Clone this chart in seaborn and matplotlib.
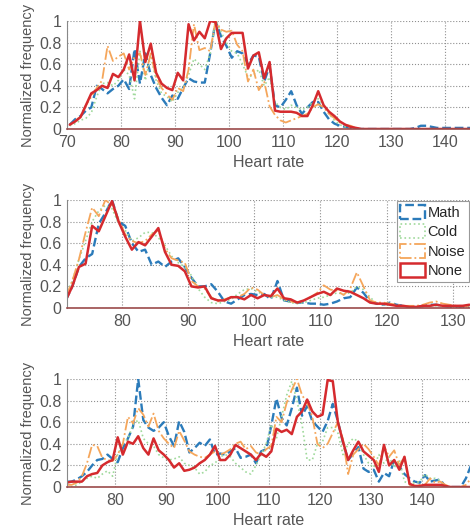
import numpy as np
import matplotlib
matplotlib.use("Agg")
import matplotlib.pyplot as plt
import seaborn as sns
from matplotlib.patches import Patch

# bin centres (heart rate) for each panel
hr1 = np.arange(70, 146) + 0.5
hr2 = np.arange(71, 133) + 0.5
hr3 = np.arange(70, 150) + 0.5

# panel 1
math1 = [0.04, 0.09, 0.12, 0.17, 0.20, 0.40, 0.37, 0.33, 0.37, 0.40,
         0.46, 0.37, 0.74, 0.42, 0.70, 0.50, 0.38, 0.29, 0.22, 0.31,
         0.28, 0.38, 0.47, 0.44, 0.43, 0.43, 0.70, 1.00, 0.86, 0.77,
         0.66, 0.72, 0.70, 0.60, 0.68, 0.67, 0.44, 0.58, 0.22, 0.20,
         0.27, 0.35, 0.22, 0.14, 0.20, 0.25, 0.25, 0.16, 0.09, 0.05,
         0.03, 0.02, 0.01, 0.00, 0.00, 0.00, 0.00, 0.00, 0.00, 0.00,
         0.00, 0.00, 0.00, 0.00, 0.01, 0.03, 0.03, 0.02, 0.01, 0.01,
         0.01, 0.01, 0.01, 0.01, 0.01, 0.01]
cold1 = [0.03, 0.05, 0.08, 0.10, 0.15, 0.30, 0.42, 0.43, 0.40, 0.45,
         0.55, 0.50, 0.28, 0.72, 0.45, 0.68, 0.45, 0.33, 0.30, 0.25,
         0.34, 0.38, 0.50, 0.65, 0.60, 0.55, 0.70, 1.00, 0.90, 0.80,
         0.72, 0.70, 0.60, 0.48, 0.50, 0.55, 0.40, 0.48, 0.25, 0.20,
         0.18, 0.22, 0.20, 0.18, 0.20, 0.25, 0.28, 0.22, 0.14, 0.08,
         0.04, 0.02, 0.01, 0.00, 0.00, 0.00, 0.00, 0.00, 0.00, 0.00,
         0.00, 0.00, 0.00, 0.00, 0.00, 0.00, 0.00, 0.00, 0.00, 0.00,
         0.00, 0.00, 0.00, 0.00, 0.00, 0.00]
noise1 = [0.04, 0.07, 0.12, 0.22, 0.30, 0.38, 0.45, 0.77, 0.63, 0.67,
          0.70, 0.55, 0.67, 0.70, 0.50, 0.70, 0.48, 0.38, 0.32, 0.27,
          0.38, 0.35, 0.55, 0.97, 0.73, 0.75, 0.72, 1.00, 0.92, 0.90,
          0.91, 0.78, 0.72, 0.44, 0.55, 0.36, 0.44, 0.21, 0.13, 0.08,
          0.06, 0.08, 0.10, 0.12, 0.14, 0.20, 0.23, 0.20, 0.14, 0.10,
          0.06, 0.04, 0.03, 0.01, 0.00, 0.00, 0.00, 0.00, 0.00, 0.00,
          0.00, 0.00, 0.00, 0.00, 0.00, 0.00, 0.00, 0.00, 0.00, 0.00,
          0.00, 0.00, 0.00, 0.00, 0.00, 0.00]
none1 = [0.04, 0.07, 0.11, 0.22, 0.33, 0.36, 0.40, 0.38, 0.51, 0.48,
         0.55, 0.69, 0.45, 1.00, 0.62, 0.79, 0.52, 0.42, 0.38, 0.36,
         0.52, 0.45, 0.97, 0.82, 0.90, 0.84, 1.00, 0.99, 0.74, 0.84,
         0.89, 0.89, 0.89, 0.56, 0.68, 0.71, 0.47, 0.62, 0.17, 0.16,
         0.16, 0.16, 0.15, 0.12, 0.12, 0.22, 0.35, 0.22, 0.16, 0.12,
         0.07, 0.04, 0.02, 0.01, 0.00, 0.00, 0.00, 0.00, 0.00, 0.00,
         0.00, 0.00, 0.00, 0.00, 0.00, 0.00, 0.00, 0.00, 0.00, 0.00,
         0.00, 0.00, 0.00, 0.00, 0.00, 0.00]

# panel 2
math2 = [0.07, 0.20, 0.38, 0.46, 0.50, 0.78, 0.88, 1.00, 0.80, 0.76,
         0.60, 0.52, 0.54, 0.40, 0.43, 0.38, 0.43, 0.46, 0.38, 0.28,
         0.20, 0.20, 0.22, 0.15, 0.06, 0.04, 0.08, 0.12, 0.13, 0.12,
         0.13, 0.08, 0.25, 0.07, 0.06, 0.05, 0.05, 0.04, 0.04, 0.03,
         0.04, 0.06, 0.09, 0.10, 0.19, 0.14, 0.06, 0.04, 0.03, 0.05,
         0.03, 0.02, 0.01, 0.01, 0.02, 0.03, 0.03, 0.02, 0.01, 0.01,
         0.01, 0.01]
cold2 = [0.12, 0.25, 0.45, 0.62, 0.80, 0.90, 0.95, 0.92, 0.78, 0.72,
         0.62, 0.65, 0.70, 0.70, 0.65, 0.58, 0.48, 0.42, 0.38, 0.30,
         0.18, 0.10, 0.05, 0.04, 0.06, 0.08, 0.13, 0.17, 0.18, 0.15,
         0.12, 0.10, 0.10, 0.07, 0.05, 0.04, 0.05, 0.07, 0.09, 0.10,
         0.12, 0.14, 0.13, 0.14, 0.20, 0.17, 0.10, 0.04, 0.03, 0.03,
         0.02, 0.02, 0.01, 0.01, 0.01, 0.02, 0.02, 0.02, 0.01, 0.01,
         0.01, 0.01]
noise2 = [0.10, 0.25, 0.45, 0.70, 0.93, 0.85, 1.00, 0.95, 0.82, 0.68,
          0.62, 0.60, 0.62, 0.68, 0.72, 0.55, 0.46, 0.44, 0.42, 0.25,
          0.20, 0.18, 0.10, 0.06, 0.08, 0.10, 0.10, 0.13, 0.19, 0.17,
          0.12, 0.10, 0.12, 0.08, 0.06, 0.05, 0.07, 0.10, 0.14, 0.21,
          0.17, 0.16, 0.12, 0.18, 0.33, 0.20, 0.07, 0.05, 0.05, 0.04,
          0.03, 0.02, 0.02, 0.02, 0.03, 0.05, 0.06, 0.04, 0.03, 0.02,
          0.02, 0.02]
none2 = [0.07, 0.20, 0.38, 0.41, 0.76, 0.71, 0.85, 0.99, 0.80, 0.66,
         0.54, 0.61, 0.58, 0.66, 0.74, 0.52, 0.40, 0.39, 0.34, 0.20,
         0.19, 0.20, 0.09, 0.07, 0.07, 0.10, 0.10, 0.08, 0.12, 0.09,
         0.12, 0.11, 0.18, 0.09, 0.08, 0.05, 0.07, 0.10, 0.13, 0.15,
         0.12, 0.18, 0.16, 0.15, 0.12, 0.09, 0.05, 0.04, 0.04, 0.03,
         0.02, 0.02, 0.01, 0.01, 0.02, 0.02, 0.03, 0.02, 0.02, 0.02,
         0.02, 0.03]

# panel 3
math3 = [0.05, 0.05, 0.07, 0.10, 0.14, 0.20, 0.25, 0.26, 0.30, 0.26,
         0.23, 0.36, 0.45, 0.56, 1.00, 0.62, 0.55, 0.52, 0.55, 0.60,
         0.47, 0.38, 0.61, 0.51, 0.32, 0.36, 0.41, 0.38, 0.44, 0.30,
         0.31, 0.30, 0.33, 0.36, 0.27, 0.28, 0.30, 0.22, 0.33, 0.35,
         0.57, 0.82, 0.64, 0.57, 0.73, 0.92, 0.66, 0.75, 0.61, 0.56,
         0.51, 0.61, 0.77, 0.61, 0.41, 0.25, 0.31, 0.37, 0.17, 0.14,
         0.16, 0.05, 0.13, 0.10, 0.25, 0.19, 0.12, 0.08, 0.05, 0.04,
         0.11, 0.05, 0.06, 0.07, 0.00, 0.00, 0.00, 0.00, 0.08, 0.20]
cold3 = [0.00, 0.00, 0.02, 0.05, 0.08, 0.10, 0.08, 0.12, 0.15, 0.10,
         0.30, 0.40, 0.45, 0.58, 0.62, 0.45, 0.40, 0.38, 0.30, 0.27,
         0.25, 0.26, 0.28, 0.22, 0.20, 0.18, 0.12, 0.14, 0.20, 0.22,
         0.28, 0.30, 0.28, 0.22, 0.18, 0.14, 0.12, 0.20, 0.30, 0.40,
         0.58, 0.45, 0.65, 0.85, 0.98, 0.80, 0.58, 0.25, 0.25, 0.40,
         0.42, 0.55, 0.55, 0.50, 0.30, 0.40, 0.45, 0.42, 0.30, 0.22,
         0.18, 0.30, 0.22, 0.28, 0.18, 0.25, 0.05, 0.03, 0.04, 0.05,
         0.12, 0.08, 0.08, 0.06, 0.00, 0.00, 0.00, 0.00, 0.00, 0.00]
noise3 = [0.02, 0.02, 0.04, 0.10, 0.22, 0.39, 0.38, 0.27, 0.25, 0.24,
          0.30, 0.40, 0.65, 0.59, 0.73, 0.67, 0.56, 0.68, 0.52, 0.45,
          0.40, 0.36, 0.52, 0.43, 0.33, 0.30, 0.28, 0.27, 0.30, 0.33,
          0.30, 0.32, 0.35, 0.40, 0.42, 0.35, 0.38, 0.32, 0.30, 0.35,
          0.38, 0.65, 0.60, 0.78, 0.90, 1.00, 0.85, 0.78, 0.65, 0.40,
          0.36, 0.40, 0.50, 0.60, 0.44, 0.12, 0.30, 0.35, 0.40, 0.35,
          0.28, 0.20, 0.38, 0.28, 0.34, 0.20, 0.28, 0.02, 0.01, 0.02,
          0.02, 0.08, 0.04, 0.05, 0.02, 0.00, 0.00, 0.00, 0.02, 0.08]
none3 = [0.04, 0.05, 0.05, 0.05, 0.10, 0.12, 0.13, 0.20, 0.23, 0.25,
         0.46, 0.30, 0.42, 0.40, 0.47, 0.36, 0.30, 0.45, 0.34, 0.30,
         0.25, 0.18, 0.22, 0.15, 0.16, 0.18, 0.22, 0.25, 0.30, 0.38,
         0.25, 0.25, 0.30, 0.39, 0.36, 0.33, 0.30, 0.25, 0.31, 0.28,
         0.33, 0.54, 0.51, 0.53, 0.49, 0.65, 0.70, 0.81, 0.70, 0.65,
         0.67, 0.99, 0.98, 0.60, 0.42, 0.25, 0.34, 0.42, 0.33, 0.29,
         0.25, 0.14, 0.39, 0.20, 0.25, 0.16, 0.28, 0.03, 0.01, 0.01,
         0.02, 0.02, 0.02, 0.02, 0.01, 0.00, 0.00, 0.00, 0.00, 0.00]

labels = ["Math", "Cold", "Noise", "None"]
colors = ["#2b7bba", "#9fd99b", "#f5a65b", "#d52a2e"]
styles = ["--", ":", "-.", "-"]
widths = [1.7, 1.2, 1.3, 1.8]

panels = [
    (hr1, [math1, cold1, noise1, none1], (70, 144.6), [70, 80, 90, 100, 110, 120, 130, 140]),
    (hr2, [math2, cold2, noise2, none2], (71.7, 132.6), [80, 90, 100, 110, 120, 130]),
    (hr3, [math3, cold3, noise3, none3], (70.6, 149.3), [80, 90, 100, 110, 120, 130, 140]),
]

sns.set_style("white")
plt.rcParams["font.family"] = ["Liberation Sans", "DejaVu Sans"]
plt.rcParams["font.size"] = 11

fig = plt.figure(figsize=(4.7, 5.3), dpi=100)
bottoms = [0.7566, 0.4189, 0.0811]
grey = "#555555"

for (hr, series, xlim, xticks), b in zip(panels, bottoms):
    ax = fig.add_axes([0.1426, b, 0.8574, 0.2038])
    for vals, lab, c, ls, lw in zip(series, labels, colors, styles, widths):
        sns.lineplot(x=hr, y=vals, ax=ax, color=c, linestyle=ls, linewidth=lw,
                     errorbar=None, label=lab, legend=False)
    ax.set_xlim(*xlim)
    ax.set_ylim(0, 1)
    ax.set_xticks(xticks)
    ax.set_yticks([0, 0.2, 0.4, 0.6, 0.8, 1])
    ax.set_yticklabels(["0", "0.2", "0.4", "0.6", "0.8", "1"])
    ax.grid(True, linestyle=":", color="#8f8f8f", linewidth=0.8)
    ax.set_axisbelow(True)
    for s in ["top", "right"]:
        ax.spines[s].set_visible(False)
    ax.spines["left"].set_color("#888888")
    ax.spines["bottom"].set_color("#9b4a4a")
    ax.spines["bottom"].set_linewidth(1.2)
    ax.tick_params(direction="in", length=3, color="#888888", labelcolor=grey,
                   labelsize=11.5, pad=4)
    ax.set_xlabel("Heart rate", color=grey, labelpad=4, fontsize=11.5)
    ax.set_ylabel("Normalized frequency", color=grey, labelpad=3, fontsize=10.5)

    if b == bottoms[1]:
        handles = [Patch(facecolor="none", edgecolor=c, linestyle=ls, linewidth=lw)
                   for c, ls, lw in zip(colors, styles, widths)]
        leg = ax.legend(handles, labels, loc="upper right", fancybox=False,
                        framealpha=1, edgecolor="#999999", borderaxespad=0.1,
                        handlelength=1.7, handleheight=1.1, handletextpad=0.15,
                        labelspacing=0.3, borderpad=0.25, fontsize=10.5)
        leg.get_frame().set_linewidth(0.8)

fig.savefig("out.png", dpi=100)
